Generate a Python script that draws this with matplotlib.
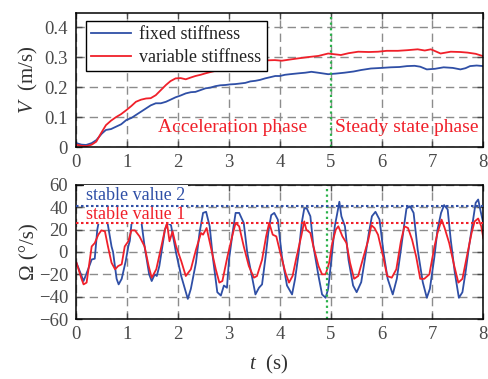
import matplotlib as mpl
import matplotlib.pyplot as plt

params = {
    "font.family": "Liberation Serif",
    "mathtext.fontset": "custom",
    "mathtext.rm": "Liberation Serif",
    "mathtext.it": "Liberation Serif:italic",
    "font.size": 13,
    "axes.linewidth": 1.1,
    "xtick.direction": "in",
    "ytick.direction": "in",
    "xtick.top": True,
    "ytick.right": True,
    "xtick.color": "#4a4a4a",
    "ytick.color": "#4a4a4a",
    "xtick.labelcolor": "#4a4a4a",
    "ytick.labelcolor": "#4a4a4a",
}
mpl.rcParams.update(params)

BLUE = "#2f4fa6"
RED = "#f0202a"
GREEN = "#2ab24a"

# ---- speed V (m/s) ----
t_fixed = [0, 0.1, 0.19, 0.3, 0.39, 0.5, 0.58, 0.68, 0.78, 0.88, 0.98, 1.08, 1.17,
           1.27, 1.37, 1.46, 1.56, 1.66, 1.76, 1.85, 1.95, 2.05, 2.15, 2.25, 2.34,
           2.44, 2.54, 2.63, 2.73, 2.83, 2.93, 3.02, 3.12, 3.22, 3.32, 3.42, 3.52,
           3.61, 3.71, 3.81, 3.91, 4.0, 4.1, 4.2, 4.37, 4.5, 4.62, 4.75, 4.95, 5.1,
           5.27, 5.45, 5.6, 5.79, 6.0, 6.18, 6.35, 6.5, 6.65, 6.76, 6.89, 7.05, 7.22,
           7.4, 7.55, 7.65, 7.74, 7.87, 8.0]
v_fixed = [0.013, 0.008, 0.007, 0.013, 0.023, 0.045, 0.057, 0.060, 0.068, 0.076,
           0.090, 0.097, 0.107, 0.118, 0.129, 0.139, 0.146, 0.146, 0.151, 0.158,
           0.166, 0.172, 0.179, 0.183, 0.184, 0.190, 0.196, 0.198, 0.203, 0.206,
           0.207, 0.209, 0.210, 0.212, 0.214, 0.219, 0.221, 0.224, 0.229, 0.233,
           0.237, 0.237, 0.241, 0.243, 0.246, 0.248, 0.251, 0.248, 0.243, 0.245,
           0.248, 0.252, 0.257, 0.262, 0.264, 0.266, 0.267, 0.270, 0.271, 0.268,
           0.259, 0.261, 0.266, 0.264, 0.259, 0.263, 0.270, 0.272, 0.270]

t_var = [0, 0.1, 0.2, 0.3, 0.39, 0.48, 0.58, 0.68, 0.78, 0.88, 0.98, 1.08, 1.17,
         1.27, 1.37, 1.46, 1.56, 1.66, 1.76, 1.85, 1.95, 2.05, 2.15, 2.25, 2.34,
         2.44, 2.54, 2.63, 2.73, 2.93, 3.12, 3.32, 3.52, 3.71, 3.9, 4.04, 4.2, 4.37,
         4.55, 4.76, 4.95, 5.05, 5.2, 5.35, 5.54, 5.75, 5.93, 6.1, 6.32, 6.5, 6.71,
         6.85, 6.97, 7.08, 7.16, 7.36, 7.55, 7.69, 7.85, 8.0]
v_var = [0.008, 0.004, 0.003, 0.008, 0.018, 0.045, 0.073, 0.088, 0.100, 0.110,
         0.123, 0.137, 0.151, 0.158, 0.162, 0.163, 0.173, 0.190, 0.207, 0.220,
         0.229, 0.230, 0.226, 0.232, 0.237, 0.241, 0.246, 0.250, 0.254, 0.263,
         0.270, 0.276, 0.283, 0.289, 0.290, 0.288, 0.292, 0.296, 0.300, 0.304,
         0.312, 0.310, 0.307, 0.313, 0.318, 0.317, 0.318, 0.321, 0.321, 0.323,
         0.326, 0.322, 0.326, 0.318, 0.312, 0.318, 0.317, 0.315, 0.311, 0.303]

# ---- angular velocity Omega (deg/s) ----
t_om_fixed = [0, 0.14, 0.23, 0.3, 0.36, 0.41, 0.46, 0.52, 0.59, 0.69, 0.72, 0.79,
              0.83, 0.89, 0.97, 1.02, 1.05, 1.09, 1.15, 1.22, 1.28, 1.34, 1.43, 1.48,
              1.54, 1.58, 1.63, 1.7, 1.74, 1.8, 1.86, 1.96, 2.06, 2.19, 2.25, 2.35,
              2.42, 2.49, 2.55, 2.62, 2.68, 2.77, 2.84, 2.9, 2.96, 3.0, 3.07, 3.13,
              3.2, 3.29, 3.36, 3.46, 3.52, 3.59, 3.65, 3.72, 3.78, 3.83, 3.89, 3.96,
              4.04, 4.14, 4.24, 4.3, 4.37, 4.43, 4.48, 4.53, 4.6, 4.66, 4.76, 4.83,
              4.9, 4.95, 5.02, 5.08, 5.13, 5.17, 5.21, 5.28, 5.35, 5.44, 5.51, 5.6,
              5.67, 5.75, 5.81, 5.88, 5.96, 6.04, 6.12, 6.22, 6.3, 6.38, 6.45, 6.49,
              6.56, 6.63, 6.71, 6.81, 6.89, 6.95, 7.04, 7.1, 7.17, 7.23, 7.3, 7.36,
              7.44, 7.52, 7.59, 7.65, 7.72, 7.78, 7.85, 7.9, 7.95, 8.0]
om_fixed = [-9.6, -26, -15.5, -6.7, -6, 20, 32, 38, 32, 5, 0, -24, -29, -24, -8, 5,
            10, 29, 38, 36, 26, 5, -20, -26, -20, -21.5, -12.6, 8, 20, 26, 24, -1,
            -21.5, -42, -33, -9.6, 17, 35, 36, 23, -4, -36, -39, -30, -32, -7, 17,
            35, 35, 26, -1, -24, -38, -32, -29, -4, 20, 33, 35, 29, -4, -30, -38,
            -24, -1, 26, 39, 39, 32, 5, -21.5, -38, -41, -33, -4, 23, 35, 45, 32, 23,
            -7, -30, -36, -27, -7, 17, 32, 36, 29, -1, -24, -38, -24, 2, 26, 39, 41,
            35, 2, -27, -41, -33, -4, 20, 35, 42, 38, 11, -18.5, -41, -36, -18.5, 5,
            23, 44, 47, 36, 26]

t_om_var = [0, 0.1, 0.14, 0.2, 0.3, 0.36, 0.43, 0.49, 0.56, 0.62, 0.69, 0.76, 0.82,
            0.89, 0.95, 1.02, 1.08, 1.15, 1.24, 1.34, 1.42, 1.48, 1.57, 1.67, 1.74,
            1.78, 1.83, 1.89, 1.96, 2.06, 2.15, 2.25, 2.35, 2.45, 2.49, 2.56, 2.64,
            2.74, 2.81, 2.87, 2.97, 3.07, 3.13, 3.2, 3.29, 3.39, 3.49, 3.55, 3.65,
            3.73, 3.79, 3.86, 3.93, 4.01, 4.11, 4.18, 4.25, 4.33, 4.42, 4.48, 4.52,
            4.6, 4.66, 4.76, 4.83, 4.9, 4.97, 5.03, 5.1, 5.15, 5.23, 5.31, 5.38, 5.46,
            5.54, 5.64, 5.74, 5.8, 5.86, 5.93, 6.03, 6.11, 6.2, 6.29, 6.38, 6.45,
            6.52, 6.6, 6.68, 6.76, 6.84, 6.94, 7.04, 7.1, 7.18, 7.24, 7.33, 7.43,
            7.51, 7.59, 7.69, 7.77, 7.83, 7.9, 7.96, 8.0]
om_var = [-9.6, -24, -29, -27.4, 5, 8, 15.5, 19.4, 18.5, 5, -9.6, -15.5, -12.6, -11,
          5, 9.6, 19.4, 19.4, 14, 5, -12.6, -23, -15.5, 5, 20, 26, 9.6, 18.5, 5, -8,
          -21.5, -15.5, 2, 17, 15.5, 21.5, 5, -15.5, -27.4, -26, -4, 15.5, 26, 23, 5,
          -12.6, -23, -21.5, -7, 14, 26, 15.5, 14, -1, -18.5, -27.4, -21.5, -4, 14,
          27.4, 20, 17, 5, -12.6, -20, -20, -9.6, 8, 20, 23, 14, 8, -9.6, -24, -21.5,
          -5, 11, 24, 21.5, 15.5, -4, -21.5, -23, -15.5, 9.6, 23, 21.5, 11, -4, -24,
          -24, -20, 5, 17, 29, 21.5, 8, -12.6, -27.4, -24, -1, 17, 27.4, 30, 23, 12.6]

stable_values = [41, 26]     # stable value 2 (blue), stable value 1 (red)
phase_switch = [5.0, 4.93]   # green marker in top / bottom panel

fig = plt.figure(figsize=(4.89, 3.79), dpi=100)
ax1 = fig.add_axes([0.1563, 0.612, 0.832, 0.3536])
ax2 = fig.add_axes([0.1563, 0.1583, 0.832, 0.3536])

grid_kw = dict(color="#8c8c8c", linestyle=(0, (6, 3.5)), linewidth=1.0)

for ax in (ax1, ax2):
    ax.set_xlim(0, 8)
    ax.set_xticks(range(0, 9))
    ax.grid(True, **grid_kw)
    ax.set_axisbelow(True)
    ax.tick_params(length=4, width=1, labelsize=13.5)
    ax.tick_params(axis="x", pad=5)
    ax.tick_params(axis="y", pad=6)

# top panel
ax1.plot(t_fixed, v_fixed, color=BLUE, lw=1.3, label="fixed stiffness")
ax1.plot(t_var, v_var, color=RED, lw=1.3, label="variable stiffness")
ax1.axvline(phase_switch[0], color=GREEN, lw=1.6, linestyle=(0, (1, 1.5)))
ax1.set_ylim(0, 0.447)
ax1.set_yticks([0, 0.1, 0.2, 0.3, 0.4])
ax1.set_yticklabels(["0", "0.1", "0.2", "0.3", "0.4"])
ax1.set_ylabel(r"$V$  (m/s)", fontsize=15, color="#333333")
ax1.yaxis.set_label_coords(-0.09, 0.5)
ax1.text(1.6, 0.065, "Acceleration phase", color=RED, fontsize=14, va="center")
ax1.text(5.08, 0.065, "Steady state phase", color=RED, fontsize=14, va="center")
leg = ax1.legend(loc="upper left", bbox_to_anchor=(0.023, 0.94), borderaxespad=0,
                 fancybox=False, framealpha=1, edgecolor="black", fontsize=13,
                 handlelength=2.2, handletextpad=0.45, labelspacing=0.3,
                 borderpad=0.3)
leg.get_frame().set_linewidth(1.0)
for txt in leg.get_texts():
    txt.set_color("#222222")

# bottom panel
ax2.plot(t_om_fixed, om_fixed, color=BLUE, lw=1.3)
ax2.plot(t_om_var, om_var, color=RED, lw=1.3)
ax2.axhline(stable_values[0], color=BLUE, lw=1.5, linestyle=(0, (1.2, 1.2)), zorder=6)
ax2.axhline(stable_values[1], color=RED, lw=1.5, linestyle=(0, (1.2, 1.2)), zorder=6)
ax2.axvline(phase_switch[1], color=GREEN, lw=1.6, linestyle=(0, (1, 1.5)))
ax2.set_ylim(-60, 60)
ax2.set_yticks(range(-60, 61, 20))
ax2.set_ylabel("Ω (°/s)", fontsize=15, color="#333333")
ax2.yaxis.set_label_coords(-0.09, 0.5)
ax2.set_xlabel(r"$t$  (s)", fontsize=15, color="#333333")
ax2.xaxis.set_label_coords(0.473, -0.25)
ax2.text(0.19, 50.5, "stable value 2", color=BLUE, fontsize=13, va="center", zorder=5,
         bbox=dict(facecolor="white", edgecolor="none", pad=1.5))
ax2.text(0.19, 34, "stable value 1", color=RED, fontsize=13, va="center", zorder=5,
         bbox=dict(facecolor="white", edgecolor="none", pad=1.0))

fig.savefig("out.png", dpi=100)
